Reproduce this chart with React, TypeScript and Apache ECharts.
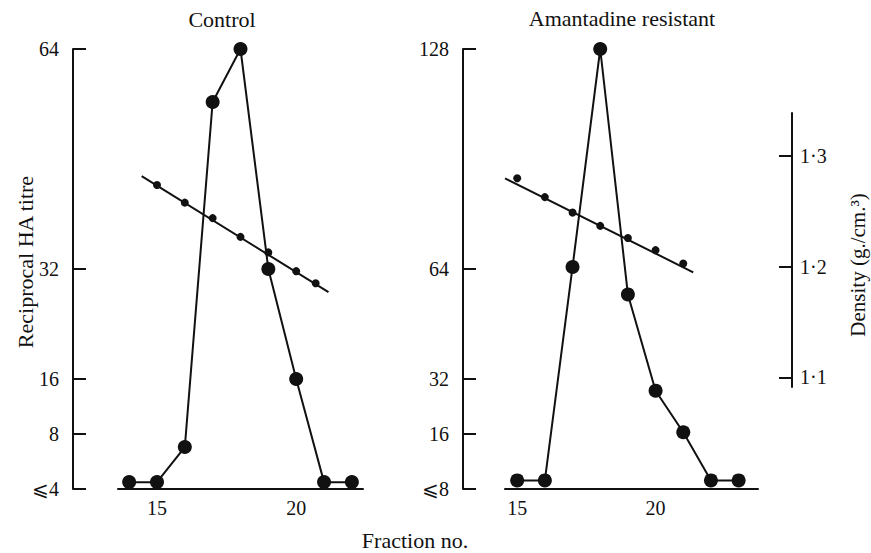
import React, { useEffect, useRef } from "react";
import * as echarts from "echarts";

// ---- Data ----
// Control panel: reciprocal HA titre per fraction (value 1 = "⩽4", drawn resting on the axis)
const fractionsControl = [14, 15, 16, 17, 18, 19, 20, 21, 22];
const titreControl = [1, 1, 6.1, 56.3, 64, 32, 16, 1, 1];
// Control panel: density per fraction
const densFracControl = [15, 16, 17, 18, 19, 20, 20.7];
const densControl = [1.274, 1.258, 1.244, 1.227, 1.213, 1.196, 1.185];
// Control panel: fitted density line end points
const fitFracControl = [14.45, 21.16];
const fitDensControl = [1.282, 1.177];

// Amantadine resistant panel (value 2.5 = "⩽8", drawn resting on the axis)
const fractionsResist = [15, 16, 17, 18, 19, 20, 21, 22, 23];
const titreResist = [2.5, 2.5, 64.6, 128, 56.6, 28.6, 16.5, 2.5, 2.5];
const densFracResist = [15, 16, 17, 18, 19, 20, 21];
const densResist = [1.28, 1.263, 1.249, 1.237, 1.226, 1.215, 1.203];
const fitFracResist = [14.56, 21.36];
const fitDensResist = [1.28, 1.195];

// Tick labels
const xTicks = [15, 20];
const yTicksControl = [0, 8, 16, 32, 64];
const yTicksResist = [0, 16, 32, 64, 128];
const densTicks = [1.1, 1.2, 1.3];
const floorLabelControl = "⩽4";
const floorLabelResist = "⩽8";

const zip = (a: number[], b: number[]) => a.map((v, i) => [v, b[i]]);

const INK = "#111";
const FONT = "Liberation Serif";

export default function App() {
  const ref = useRef<HTMLDivElement>(null);

  useEffect(() => {
    document.body.style.margin = "0";
    if (!ref.current) return;
    const chart = echarts.init(ref.current, null, { renderer: "svg" });

    const axisLine = { show: true, lineStyle: { color: INK, width: 2 } };
    const label = { color: INK, fontFamily: FONT, fontSize: 20 };

    const hiddenX = (min: number, max: number, gridIndex: number) => ({
      type: "value", gridIndex, min, max, show: false, splitLine: { show: false },
    });

    const textStyle = (text: string, size: number) => ({
      text, fill: INK, fontFamily: FONT, fontSize: size, align: "center", verticalAlign: "middle",
    });

    const option: any = {
      animation: false,
      backgroundColor: "#fff",
      textStyle: { fontFamily: FONT, color: INK },
      grid: [
        { left: 118, width: 245, top: 49, height: 440 },
        { left: 505, width: 253, top: 49, height: 440 },
        { left: 118, width: 245, top: 113, height: 274 },
        { left: 505, width: 253, top: 113, height: 274 },
      ],
      xAxis: [
        {
          type: "value", gridIndex: 0, min: 13.6, max: 22.4,
          axisLine, axisTick: { show: false }, splitLine: { show: false },
          axisLabel: { ...label, margin: 9, customValues: xTicks },
        },
        {
          type: "value", gridIndex: 1, min: 14.56, max: 23.7,
          axisLine, axisTick: { show: false }, splitLine: { show: false },
          axisLabel: { ...label, margin: 9, customValues: xTicks },
        },
        hiddenX(13.6, 22.4, 2),
        hiddenX(14.56, 23.7, 3),
      ],
      yAxis: [
        {
          type: "value", gridIndex: 0, position: "left", offset: 45, min: 0, max: 64,
          axisLine, splitLine: { show: false },
          axisTick: { show: true, inside: true, length: 13, lineStyle: { color: INK, width: 2 }, customValues: yTicksControl },
          axisLabel: {
            ...label, margin: 14, customValues: yTicksControl,
            formatter: (v: number) => (v === 0 ? floorLabelControl : String(v)),
          },
        },
        {
          type: "value", gridIndex: 1, position: "left", offset: 42, min: 0, max: 128,
          axisLine, splitLine: { show: false },
          axisTick: { show: true, inside: true, length: 13, lineStyle: { color: INK, width: 2 }, customValues: yTicksResist },
          axisLabel: {
            ...label, margin: 14, customValues: yTicksResist,
            formatter: (v: number) => (v === 0 ? floorLabelResist : String(v)),
          },
        },
        {
          type: "value", gridIndex: 2, min: 1.0912, max: 1.3391, show: false, splitLine: { show: false },
        },
        {
          type: "value", gridIndex: 3, position: "right", offset: 34, min: 1.0912, max: 1.3391,
          axisLine, splitLine: { show: false },
          axisTick: { show: true, inside: true, length: 13, lineStyle: { color: INK, width: 2 }, customValues: densTicks },
          axisLabel: {
            ...label, margin: 8, customValues: densTicks,
            formatter: (v: number) => v.toFixed(1).replace(".", "·"),
          },
        },
      ],
      series: [
        {
          name: "Control titre", type: "line", xAxisIndex: 0, yAxisIndex: 0,
          data: zip(fractionsControl, titreControl),
          symbol: "circle", symbolSize: 14, z: 4,
          lineStyle: { color: INK, width: 2 }, itemStyle: { color: INK, opacity: 1 },
        },
        {
          name: "Resistant titre", type: "line", xAxisIndex: 1, yAxisIndex: 1,
          data: zip(fractionsResist, titreResist),
          symbol: "circle", symbolSize: 14, z: 4,
          lineStyle: { color: INK, width: 2 }, itemStyle: { color: INK, opacity: 1 },
        },
        {
          name: "Control density fit", type: "line", xAxisIndex: 2, yAxisIndex: 2,
          data: zip(fitFracControl, fitDensControl), showSymbol: false, z: 3,
          lineStyle: { color: INK, width: 2 },
        },
        {
          name: "Control density", type: "scatter", xAxisIndex: 2, yAxisIndex: 2,
          data: zip(densFracControl, densControl), symbolSize: 8, z: 3,
          itemStyle: { color: INK, opacity: 1 },
        },
        {
          name: "Resistant density fit", type: "line", xAxisIndex: 3, yAxisIndex: 3,
          data: zip(fitFracResist, fitDensResist), showSymbol: false, z: 3,
          lineStyle: { color: INK, width: 2 },
        },
        {
          name: "Resistant density", type: "scatter", xAxisIndex: 3, yAxisIndex: 3,
          data: zip(densFracResist, densResist), symbolSize: 8, z: 3,
          itemStyle: { color: INK, opacity: 1 },
        },
      ],
      graphic: [
        { type: "text", x: 222, y: 19, style: textStyle("Control", 22) },
        { type: "text", x: 622, y: 18, style: textStyle("Amantadine resistant", 22) },
        { type: "text", x: 415, y: 540, style: textStyle("Fraction no.", 22) },
        { type: "text", x: 25, y: 262, rotation: Math.PI / 2, style: textStyle("Reciprocal HA titre", 22) },
        { type: "text", x: 858, y: 265, rotation: Math.PI / 2, style: textStyle("Density (g./cm.³)", 21) },
      ],
    };

    chart.setOption(option);
    return () => chart.dispose();
  }, []);

  return <div ref={ref} style={{ width: 871, height: 553 }} />;
}
